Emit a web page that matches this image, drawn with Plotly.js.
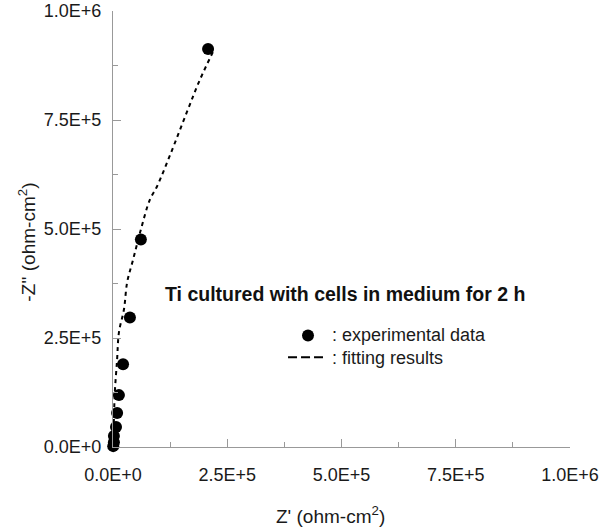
<!DOCTYPE html>
<html>
<head>
<meta charset="utf-8">
<script src="https://cdn.plot.ly/plotly-3.0.1.min.js"></script>
<style>html,body{margin:0;padding:0;background:#fff;}#chart{width:613px;height:532px;}</style>
</head>
<body>
<div id="chart"></div>
<script>
// Experimental data (Z', -Z'') in ohm-cm2
const expZre = [500, 2000, 2000, 6600, 9000, 13000, 22000, 37000, 61000, 208000];
const expZim = [2000, 11000, 25000, 46000, 78000, 119000, 190000, 297000, 476000, 913000];
// Fitting results
const fitZre = [0, 2000, 4000, 9000, 13000, 24000, 31000, 44000, 61000, 81000, 96000, 125000, 162000, 190000, 221000];
const fitZim = [0, 64000, 126000, 201000, 263000, 316000, 378000, 430000, 499000, 568000, 597000, 670000, 769000, 842000, 911000];
// Tick labels
const tickVals = [0, 250000, 500000, 750000, 1000000];
const tickText = ["0.0E+0", "2.5E+5", "5.0E+5", "7.5E+5", "1.0E+6"];
// Text
const chartTitle = "Ti cultured with cells in medium for 2 h";
const legendLabels = [": experimental data", ": fitting results"];
const xTitle = "Z' (ohm-cm<sup>2</sup>)";
const yTitle = "-Z'' (ohm-cm<sup>2</sup>)";

const font = "Liberation Sans, Arial, sans-serif";
const ink = "#1a1a1a";
const axisCommon = {
  range: [0, 1000000],
  tickvals: tickVals,
  ticktext: tickText,
  ticks: "inside",
  ticklen: 8,
  tickcolor: "#999",
  showline: true,
  linecolor: "#999",
  linewidth: 1,
  showgrid: false,
  zeroline: false,
  mirror: false,
  tickfont: {family: font, size: 18, color: ink},
  minor: {dtick: 125000, tick0: 0, ticks: "inside", ticklen: 5, tickcolor: "#999", showgrid: false}
};

const traces = [
  {
    x: expZre, y: expZim, mode: "markers", type: "scatter",
    name: legendLabels[0],
    marker: {color: "#000", size: 12, symbol: "circle"},
    cliponaxis: false
  },
  {
    x: fitZre, y: fitZim, mode: "lines", type: "scatter",
    name: legendLabels[1],
    line: {color: "#000", width: 2, dash: "4px,4px", shape: "spline"}
  }
];

const layout = {
  width: 613, height: 532,
  margin: {l: 113, r: 43, t: 11, b: 85},
  paper_bgcolor: "#fff", plot_bgcolor: "#fff",
  font: {family: font, color: ink},
  xaxis: Object.assign({}, axisCommon, {ticklabelstandoff: 11}),
  yaxis: Object.assign({}, axisCommon, {ticklabelstandoff: 7}),
  showlegend: false,
  shapes: [
    {type: "circle", xref: "paper", yref: "paper", xsizemode: "pixel", ysizemode: "pixel",
     xanchor: 0.4267, yanchor: 0.256, x0: -6, x1: 6, y0: -6, y1: 6,
     fillcolor: "#000", line: {color: "#000", width: 0}},
    {type: "line", xref: "paper", yref: "paper", x0: 0.383, x1: 0.4595, y0: 0.206, y1: 0.206,
     line: {color: "#000", width: 2, dash: "9px,4px"}}
  ],
  annotations: [
    {text: "<b>" + chartTitle + "</b>", xref: "paper", yref: "paper",
     x: 0.5066, y: 0.350, xanchor: "center", yanchor: "middle", showarrow: false,
     font: {family: font, size: 19.5, color: "#111"}},
    {text: legendLabels[0], xref: "paper", yref: "paper",
     x: 0.475, y: 0.2563, xanchor: "left", yanchor: "middle", showarrow: false,
     font: {family: font, size: 18, color: ink}},
    {text: legendLabels[1], xref: "paper", yref: "paper",
     x: 0.475, y: 0.2037, xanchor: "left", yanchor: "middle", showarrow: false,
     font: {family: font, size: 18, color: ink}},
    {text: xTitle, xref: "paper", yref: "paper",
     x: 0.477, y: -0.156, xanchor: "center", yanchor: "middle", showarrow: false,
     font: {family: font, size: 19, color: ink}},
    {text: yTitle, xref: "paper", yref: "paper", textangle: -90,
     x: -0.19, y: 0.469, xanchor: "center", yanchor: "middle", showarrow: false,
     font: {family: font, size: 19, color: ink}}
  ]
};

Plotly.newPlot("chart", traces, layout, {displayModeBar: false, staticPlot: true});
</script>
</body>
</html>
